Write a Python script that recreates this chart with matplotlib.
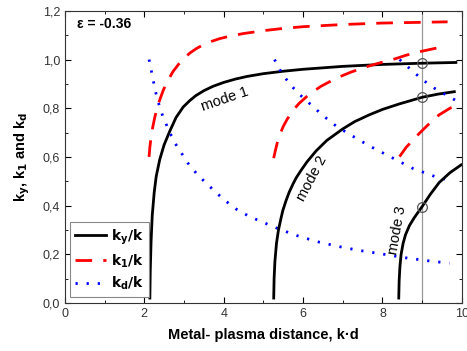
import matplotlib
matplotlib.use("Agg")
import matplotlib.pyplot as plt
from matplotlib.ticker import MultipleLocator, FuncFormatter

plt.rcParams['font.family'] = ['Liberation Sans', 'DejaVu Sans']

# modo 1
x_y1 = [2.14, 2.15, 2.17, 2.2, 2.25, 2.3, 2.39, 2.5, 2.64, 2.8, 2.98, 3.15, 3.3, 3.5, 3.73, 4.0, 4.3, 4.6, 5.0, 5.5, 6.0, 7.0, 8.0, 9.0, 9.85]
ky1 = [0.02, 0.13, 0.25, 0.36, 0.455, 0.52, 0.59, 0.65, 0.705, 0.762, 0.805, 0.832, 0.852, 0.872, 0.89, 0.906, 0.92, 0.931, 0.942, 0.952, 0.96, 0.972, 0.98, 0.985, 0.988]
x_11 = [2.12, 2.14, 2.17, 2.21, 2.26, 2.32, 2.39, 2.48, 2.6, 2.72, 2.86, 3.0, 3.15, 3.31, 3.5, 3.7, 3.9, 4.15, 4.5, 5.07, 5.5, 6.0, 7.0, 8.0, 9.64]
k11 = [0.60, 0.64, 0.68, 0.72, 0.76, 0.80, 0.835, 0.875, 0.915, 0.95, 0.98, 1.005, 1.027, 1.045, 1.062, 1.075, 1.086, 1.096, 1.107, 1.12, 1.128, 1.135, 1.144, 1.15, 1.155]
x_d1 = [2.12, 2.2, 2.28, 2.35, 2.45, 2.55, 2.64, 2.8, 3.1, 3.35, 3.65, 4.0, 4.32, 4.65, 4.95, 5.4, 5.91, 6.4, 6.92, 7.4, 7.92, 8.51, 9.1, 9.69]
kd1 = [1.0, 0.935, 0.87, 0.825, 0.775, 0.735, 0.70, 0.65, 0.574, 0.525, 0.478, 0.425, 0.385, 0.355, 0.334, 0.303, 0.273, 0.25, 0.231, 0.216, 0.203, 0.187, 0.174, 0.163]

# modo 2
x_y2 = [5.26, 5.27, 5.29, 5.33, 5.38, 5.44, 5.49, 5.57, 5.65, 5.75, 5.83, 5.95, 6.1, 6.33, 6.6, 7.0, 7.3, 7.67, 8.0, 8.43, 9.0, 9.4, 9.81]
ky2 = [0.02, 0.10, 0.17, 0.245, 0.30, 0.345, 0.38, 0.42, 0.455, 0.49, 0.515, 0.545, 0.58, 0.625, 0.668, 0.715, 0.745, 0.773, 0.795, 0.818, 0.845, 0.858, 0.868]
x_12 = [5.26, 5.3, 5.36, 5.41, 5.5, 5.6, 5.74, 5.9, 6.16, 6.45, 6.83, 7.2, 7.59, 7.9, 8.26, 8.6, 8.93, 9.3, 9.6]
k12 = [0.595, 0.625, 0.665, 0.69, 0.725, 0.755, 0.79, 0.82, 0.858, 0.89, 0.923, 0.948, 0.97, 0.985, 1.0, 1.018, 1.032, 1.045, 1.054]
x_d2 = [5.28, 5.45, 5.66, 5.9, 6.16, 6.5, 6.83, 7.2, 7.67, 8.18, 8.76, 9.31, 9.64]
kd2 = [1.0, 0.948, 0.9, 0.858, 0.82, 0.77, 0.727, 0.69, 0.645, 0.602, 0.553, 0.52, 0.506]

# modo 3
x_y3 = [8.41, 8.42, 8.44, 8.47, 8.52, 8.58, 8.68, 8.8, 9.0, 9.2, 9.43, 9.7, 9.98]
ky3 = [0.02, 0.09, 0.15, 0.20, 0.245, 0.28, 0.318, 0.35, 0.396, 0.445, 0.495, 0.535, 0.567]
x_13 = [8.43, 8.6, 8.93, 9.2, 9.43, 9.7, 9.98]
k13 = [0.601, 0.64, 0.697, 0.74, 0.773, 0.8, 0.82]
x_d3 = [8.43, 8.72, 9.01, 9.31, 9.9]
kd3 = [1.0, 0.958, 0.917, 0.882, 0.827]

# pontos marcados em k·d = 9
x_marca = 9.0
y_marca = [0.985, 0.845, 0.396]

fig = plt.figure(figsize=(4.67, 3.51), dpi=100)
ax = fig.add_axes([0.139, 0.137, 0.85, 0.832])

lw = 2.0
traco = (6, 4)
ponto = (0, (0.8, 3.2))
ax.axvline(x_marca, color='#999999', lw=0.9, zorder=1)
ax.plot(x_y1, ky1, color='black', lw=lw, label=r"$\mathbf{k_y/k}$")
ax.plot(x_11, k11, color='red', lw=lw, dashes=traco, label=r"$\mathbf{k_1/k}$")
ax.plot(x_d1, kd1, color='blue', lw=lw, linestyle=ponto, label=r"$\mathbf{k_d/k}$")
ax.plot(x_y2, ky2, color='black', lw=lw)
ax.plot(x_12, k12, color='red', lw=lw, dashes=traco)
ax.plot(x_d2, kd2, color='blue', lw=lw, linestyle=ponto)
ax.plot(x_y3, ky3, color='black', lw=lw)
ax.plot(x_13, k13, color='red', lw=lw, dashes=traco)
ax.plot(x_d3, kd3, color='blue', lw=lw, linestyle=ponto)
ax.plot([x_marca] * 3, y_marca, 'o', ms=7, mfc='none', mec='#555555', mew=0.9, zorder=5)

ax.set_xlim(0, 10)
ax.set_ylim(0, 1.2)
ax.xaxis.set_major_locator(MultipleLocator(2))
ax.xaxis.set_minor_locator(MultipleLocator(1))
ax.yaxis.set_major_locator(MultipleLocator(0.2))
ax.yaxis.set_minor_locator(MultipleLocator(0.1))
ax.yaxis.set_major_formatter(FuncFormatter(lambda v, p: f"{v:.1f}".replace('.', ',')))
ax.tick_params(which='both', direction='in', top=True, right=True, labelsize=9, labelcolor='#333333')
ax.tick_params(which='major', length=4)
ax.tick_params(which='minor', length=2.5)
for s in ax.spines.values():
    s.set_color('#333333')

ax.set_xlabel("Metal- plasma distance, k·d", fontsize=10.5, fontweight='bold', labelpad=6)
ax.set_ylabel(r"k$_\mathbf{y}$, k$_\mathbf{1}$ and k$_\mathbf{d}$", fontsize=10.5, fontweight='bold', labelpad=8)

ax.text(0.3, 1.13, "ε = -0.36", fontsize=10, fontweight='bold')
ax.text(4.03, 0.835, "mode 1", fontsize=10.5, rotation=19, ha='center', va='center', fontweight='medium')
ax.text(6.22, 0.51, "mode 2", fontsize=10.5, rotation=62, ha='center', va='center', fontweight='medium')
ax.text(8.38, 0.30, "mode 3", fontsize=10.5, rotation=80, ha='center', va='center', fontweight='medium')

leg = ax.legend(loc='lower left', fontsize=10, handlelength=2.2, borderaxespad=0.4,
                fancybox=False, edgecolor='#888888', framealpha=1, handletextpad=0.4,
                borderpad=0.35, labelspacing=0.4)
leg.get_frame().set_linewidth(0.8)

fig.savefig("out.png", dpi=100)
